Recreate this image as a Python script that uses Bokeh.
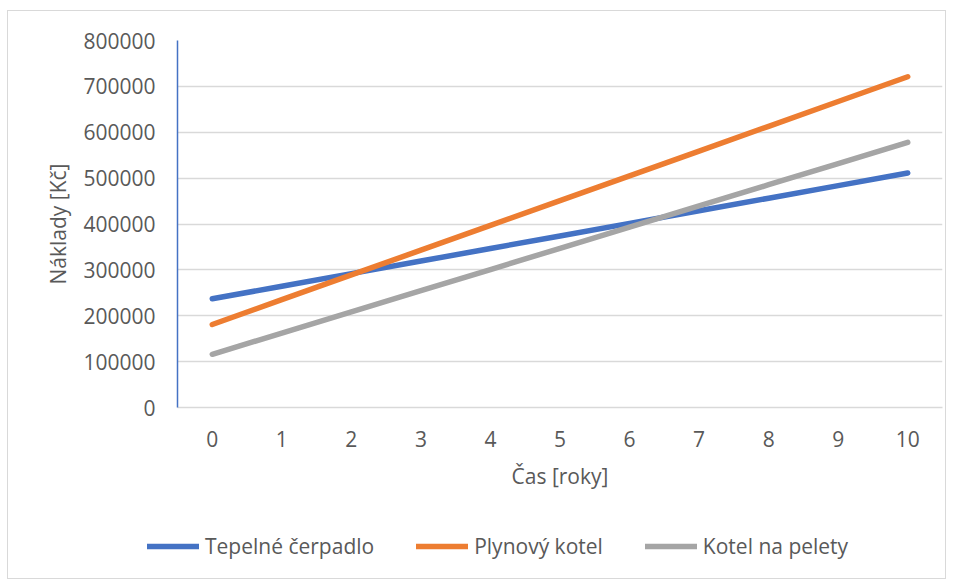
from bokeh.plotting import figure
from bokeh.models import (FactorRange, Range1d, FixedTicker, BasicTickFormatter,
                          Legend, LegendItem, ColumnDataSource)
from bokeh.embed import file_html
from bokeh.resources import INLINE

# ---- data ----
years = ["0", "1", "2", "3", "4", "5", "6", "7", "8", "9", "10"]
tepelne_cerpadlo = [237000, 264400, 291800, 319200, 346600, 374000, 401400, 428800, 456200, 483600, 511000]
plynovy_kotel = [181000, 235000, 289000, 343000, 397000, 451000, 505000, 559000, 613000, 667000, 721000]
kotel_na_pelety = [116000, 162200, 208400, 254600, 300800, 347000, 393200, 439400, 485600, 531800, 578000]
series_names = ["Tepelné čerpadlo", "Plynový kotel", "Kotel na pelety"]
y_ticks = [0, 100000, 200000, 300000, 400000, 500000, 600000, 700000, 800000]
x_title = "Čas [roky]"
y_title = "Náklady [Kč]"

colors = ["#4472C4", "#ED7D31", "#A5A5A5"]
FONT = "Open Sans"
TXT = "#595959"
BORDER = "1px solid #D9D9D9"

src = ColumnDataSource(dict(x=years, a=tepelne_cerpadlo, b=plynovy_kotel, c=kotel_na_pelety))

# ---- main chart ----
p = figure(width=939, height=489, output_backend="svg", toolbar_location=None,
           x_range=FactorRange(factors=years, range_padding=0),
           y_range=Range1d(0, 800000),
           min_border_left=169, min_border_top=29, min_border_right=5, min_border_bottom=93)
p.outline_line_color = None
p.background_fill_color = "white"
p.border_fill_color = "white"
p.styles = {"border-top": BORDER, "border-left": BORDER, "border-right": BORDER,
            "left": "7px", "top": "10px"}

for col, c in zip(["a", "b", "c"], colors):
    p.line(x="x", y=col, source=src, line_color=c, line_width=5.5, line_cap="round", line_join="round")

# y axis
p.yaxis.ticker = FixedTicker(ticks=y_ticks)
p.yaxis.formatter = BasicTickFormatter(use_scientific=False)
p.yaxis.axis_line_color = "#4472C4"
p.yaxis.axis_line_width = 1.5
p.yaxis.major_tick_line_color = None
p.yaxis.minor_tick_line_color = None
p.yaxis.major_label_text_font = FONT
p.yaxis.major_label_text_font_size = "21px"
p.yaxis.major_label_text_color = TXT
p.yaxis.major_label_standoff = 16
p.yaxis.axis_label = y_title
p.yaxis.axis_label_text_font = FONT
p.yaxis.axis_label_text_font_size = "21px"
p.yaxis.axis_label_text_font_style = "normal"
p.yaxis.axis_label_text_color = TXT
p.yaxis.axis_label_standoff = 8

# x axis
p.xaxis.axis_line_color = "#D9D9D9"
p.xaxis.axis_line_width = 1.5
p.xaxis.major_tick_line_color = None
p.xaxis.minor_tick_line_color = None
p.xaxis.major_label_text_font = FONT
p.xaxis.major_label_text_font_size = "21px"
p.xaxis.major_label_text_color = TXT
p.xaxis.major_label_standoff = 17
p.xaxis.axis_label = x_title
p.xaxis.axis_label_text_font = FONT
p.xaxis.axis_label_text_font_size = "21px"
p.xaxis.axis_label_text_font_style = "normal"
p.xaxis.axis_label_text_color = TXT
p.xaxis.axis_label_standoff = 12

p.xgrid.grid_line_color = None
p.ygrid.ticker = FixedTicker(ticks=y_ticks)
p.ygrid.grid_line_color = "#D9D9D9"
p.ygrid.grid_line_width = 1.5

# ---- legend strip (same series, drawn outside its visible range) ----
q = figure(width=939, height=80, output_backend="svg", toolbar_location=None,
           x_range=FactorRange(factors=years, range_padding=0),
           y_range=Range1d(-2, -1),
           x_axis_location=None, y_axis_location=None,
           min_border_left=0, min_border_right=0, min_border_top=0, min_border_bottom=0)
q.outline_line_color = None
q.grid.grid_line_color = None
q.border_fill_color = "white"
q.background_fill_color = "white"
q.styles = {"border-bottom": BORDER, "border-left": BORDER, "border-right": BORDER,
            "left": "7px", "top": "10px"}
legend_renderers = []
for col, c in zip(["a", "b", "c"], colors):
    r = q.line(x="x", y=col, source=src, line_color=c, line_width=5.5, line_cap="round")
    legend_renderers.append(r)

legend = Legend(items=[LegendItem(label=n, renderers=[r]) for n, r in zip(series_names, legend_renderers)],
                orientation="horizontal", location=(139, 19),
                glyph_width=52, glyph_height=20, label_height=20, label_standoff=6,
                spacing=42, padding=0, margin=0,
                label_text_font=FONT, label_text_font_size="21px", label_text_color=TXT,
                border_line_color=None, background_fill_alpha=0)
q.add_layout(legend, "center")

open("out.html", "w").write(file_html([p, q], INLINE))
